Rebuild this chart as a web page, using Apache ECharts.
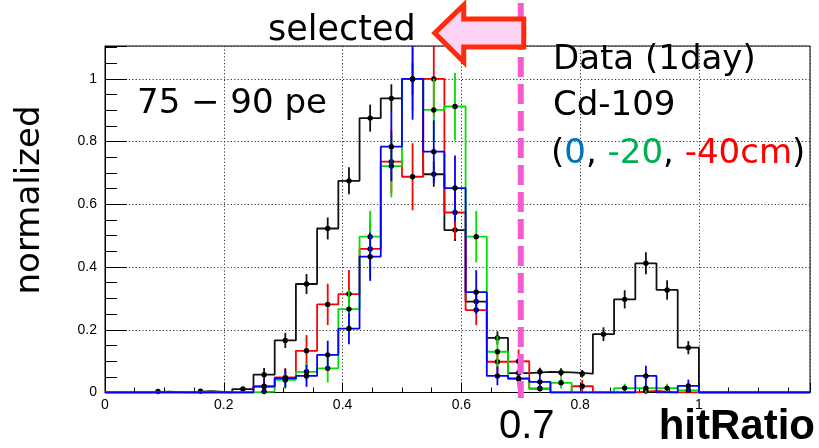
<!DOCTYPE html>
<html>
<head>
<meta charset="utf-8">
<script src="https://cdn.jsdelivr.net/npm/echarts@6/dist/echarts.min.js"></script>
<style>
  html, body { margin: 0; padding: 0; background: #fff; }
  #chart { width: 819px; height: 448px; }
</style>
</head>
<body>
<div id="chart"></div>
<script>
// Histogram binning: 28 bins of hitRatio between 0 and 1
const nBins = 28;
const binLow = 0;
const binHigh = 1;
const cutValue = 0.7;

// Normalized contents per bin (peak = 1)
const dataRatio = [0, 0, 0.003, 0, 0.004, 0, 0.011, 0.057, 0.166, 0.346, 0.523, 0.675, 0.875, 0.938, 1.0, 0.696, 0.518, 0.290, 0.174, 0.062, 0.066, 0.064, 0.060, 0.186, 0.297, 0.412, 0.327, 0.143];
const dataRatioErr = [0, 0, 0.003, 0, 0.004, 0, 0.007, 0.021, 0.024, 0.032, 0.035, 0.043, 0.043, 0.045, 0.05, 0.04, 0.035, 0.027, 0.021, 0.012, 0.013, 0.013, 0.012, 0.022, 0.029, 0.035, 0.031, 0.021];

const cdMinus40 = [0, 0, 0, 0, 0, 0, 0, 0.02, 0.048, 0.133, 0.281, 0.314, 0.458, 0.736, 0.688, 1.0, 0.574, 0.263, 0.098, 0.100, 0.012, 0, 0.020, 0, 0, 0.005, 0, 0];
const cdMinus40Err = [0, 0, 0, 0, 0, 0, 0, 0.02, 0.03, 0.05, 0.066, 0.077, 0.09, 0.1, 0.107, 0.12, 0.085, 0.048, 0.035, 0.037, 0.012, 0, 0.02, 0, 0, 0.005, 0, 0];

const cdMinus20 = [0, 0, 0, 0, 0, 0, 0, 0.003, 0.04, 0.066, 0.077, 0.266, 0.497, 0.722, 1.0, 0.901, 0.912, 0.497, 0.130, 0.043, 0.013, 0.031, 0, 0, 0.014, 0.014, 0.014, 0.007];
const cdMinus20Err = [0, 0, 0, 0, 0, 0, 0, 0.003, 0.028, 0.028, 0.045, 0.06, 0.082, 0.1, 0.1, 0.1, 0.108, 0.082, 0.05, 0.03, 0.013, 0.018, 0, 0, 0.014, 0.014, 0.014, 0.007];

const cdZero = [0, 0, 0, 0, 0, 0, 0, 0.019, 0.045, 0.053, 0.120, 0.204, 0.433, 0.784, 1.0, 0.768, 0.652, 0.320, 0.053, 0.045, 0.034, 0, 0, 0, 0, 0.053, 0, 0.021];
const cdZeroErr = [0, 0, 0, 0, 0, 0, 0, 0.02, 0.03, 0.035, 0.045, 0.05, 0.077, 0.11, 0.13, 0.1, 0.104, 0.07, 0.03, 0.025, 0.022, 0, 0, 0, 0, 0.032, 0, 0.02];

const X_MAX = 1.187;
const Y_MAX = 1.105;
const binWidth = (binHigh - binLow) / nBins;

// Step outline: horizontal across each bin, vertical between bins
function stepData(vals) {
  const pts = vals.map((v, k) => [binLow + k * binWidth, v]);
  pts.push([binHigh, 0]);
  pts.push([X_MAX, 0]);
  return pts;
}

function histSeries(vals, color, z) {
  return {
    type: 'line', step: 'end', data: stepData(vals), showSymbol: false,
    lineStyle: { color: color, width: 1.8 }, z: z, silent: true
  };
}

// Vertical error bars with a marker at each filled bin centre
function errorSeries(vals, errs, color, z) {
  const pts = [];
  vals.forEach((v, k) => {
    if (v > 0) pts.push([binLow + (k + 0.5) * binWidth, v, errs[k]]);
  });
  return {
    type: 'custom', data: pts, z: z, silent: true,
    encode: { x: 0, y: 1 },
    renderItem: function (params, api) {
      const x = api.value(0), y = api.value(1), e = api.value(2);
      const top = api.coord([x, Math.min(y + e, Y_MAX)]);
      const bot = api.coord([x, Math.max(y - e, 0)]);
      const c = api.coord([x, y]);
      return {
        type: 'group',
        children: [
          { type: 'line', shape: { x1: top[0], y1: top[1], x2: bot[0], y2: bot[1] },
            style: { stroke: color, lineWidth: 1.8 } },
          { type: 'circle', shape: { cx: c[0], cy: c[1], r: 2.7 },
            style: { fill: '#000' } }
        ]
      };
    }
  };
}

const labelFmt = function (v) {
  const r = Math.round(v * 5) / 5;
  if (Math.abs(r - v) > 1e-6) return '';
  return String(+r.toFixed(1));
};

const chart = echarts.init(document.getElementById('chart'), null, { renderer: 'canvas' });

const option = {
  animation: false,
  backgroundColor: '#fff',
  grid: { left: 105, top: 46, right: 9, bottom: 55.5, show: true,
          borderColor: '#000', borderWidth: 1, backgroundColor: 'transparent' },
  xAxis: {
    type: 'value', min: 0, max: X_MAX, interval: 0.2,
    axisLine: { onZero: false, lineStyle: { color: '#000', width: 1 } },
    axisTick: { inside: true, length: 10, lineStyle: { color: '#000' } },
    minorTick: { show: true, splitNumber: 4, length: 5, lineStyle: { color: '#000' } },
    splitLine: { show: true, lineStyle: { type: [1.2, 2.2], color: '#333', width: 1 } },
    axisLabel: { color: '#000', fontFamily: 'Liberation Sans', fontSize: 14, margin: 6,
                 showMaxLabel: false, formatter: labelFmt }
  },
  yAxis: {
    type: 'value', min: 0, max: Y_MAX, interval: 0.2,
    axisLine: { onZero: false, lineStyle: { color: '#000', width: 1 } },
    axisTick: { inside: true, length: 22, lineStyle: { color: '#000' } },
    minorTick: { show: true, splitNumber: 4, length: 12, lineStyle: { color: '#000' } },
    splitLine: { show: true, lineStyle: { type: [1.2, 2.2], color: '#333', width: 1 } },
    axisLabel: { color: '#000', fontFamily: 'Liberation Sans', fontSize: 14, margin: 8,
                 showMaxLabel: false, formatter: labelFmt }
  },
  series: [
    histSeries(dataRatio, '#111', 2),
    errorSeries(dataRatio, dataRatioErr, '#111', 3),
    histSeries(cdMinus40, '#ff0000', 4),
    errorSeries(cdMinus40, cdMinus40Err, '#ff0000', 5),
    histSeries(cdMinus20, '#00e000', 6),
    errorSeries(cdMinus20, cdMinus20Err, '#00e000', 7),
    histSeries(cdZero, '#0000ff', 8),
    errorSeries(cdZero, cdZeroErr, '#0000ff', 9)
  ]
};
chart.setOption(option);

// Annotations placed around the cut position
const xCut = chart.convertToPixel({ xAxisIndex: 0 }, cutValue);
const txtFont = 'DejaVu Sans';

chart.setOption({
  graphic: [
    // vertical dashed cut line
    { type: 'line', z: 50, shape: { x1: xCut, y1: 3, x2: xCut, y2: 398 },
      style: { stroke: '#f35bd0', lineWidth: 6, lineDash: [20, 7] } },
    // arrow pointing towards the selected side
    { type: 'polygon', z: 60,
      shape: { points: [
        [xCut - 86, 33], [xCut - 57, 5], [xCut - 57, 19], [xCut + 3, 19],
        [xCut + 3, 47], [xCut - 57, 47], [xCut - 57, 62]
      ] },
      style: { fill: '#fdd3f3', stroke: '#ff2a0a', lineWidth: 5, lineJoin: 'miter' } },
    { type: 'text', z: 70, x: 268, y: 31,
      style: { text: 'selected', fill: '#000', fontFamily: txtFont, fontSize: 35,
               align: 'left', verticalAlign: 'middle' } },
    { type: 'text', z: 70, x: 137, y: 104,
      style: { text: '75 \u2212 90 pe', fill: '#000', fontFamily: txtFont, fontSize: 34,
               align: 'left', verticalAlign: 'middle' } },
    { type: 'text', z: 70, x: 553, y: 60,
      style: { text: 'Data (1day)', fill: '#000', fontFamily: txtFont, fontSize: 34,
               align: 'left', verticalAlign: 'middle' } },
    { type: 'text', z: 70, x: 553, y: 106,
      style: { text: 'Cd-109', fill: '#000', fontFamily: txtFont, fontSize: 34,
               align: 'left', verticalAlign: 'middle' } },
    { type: 'text', z: 70, x: 551, y: 154,
      style: { text: '({b|0}, {g|-20}, {r|-40cm})', fill: '#000', fontFamily: txtFont, fontSize: 34,
               align: 'left', verticalAlign: 'middle',
               rich: {
                 b: { fill: '#0070c0', fontFamily: txtFont, fontSize: 34 },
                 g: { fill: '#00b050', fontFamily: txtFont, fontSize: 34 },
                 r: { fill: '#ff0000', fontFamily: txtFont, fontSize: 34 }
               } } },
    { type: 'text', z: 70, x: 30, y: 200, rotation: Math.PI / 2,
      style: { text: 'normalized', fill: '#000', fontFamily: txtFont, fontSize: 34,
               align: 'center', verticalAlign: 'middle' } },
    { type: 'text', z: 70, x: xCut + 6, y: 427,
      style: { text: String(cutValue), fill: '#000', fontFamily: 'Liberation Sans', fontSize: 40,
               align: 'center', verticalAlign: 'middle' } },
    { type: 'text', z: 70, x: 815, y: 427,
      style: { text: 'hitRatio', fill: '#000', fontFamily: 'Liberation Sans', fontSize: 42,
               fontWeight: 'bold', align: 'right', verticalAlign: 'middle' } }
  ]
});
</script>
</body>
</html>
